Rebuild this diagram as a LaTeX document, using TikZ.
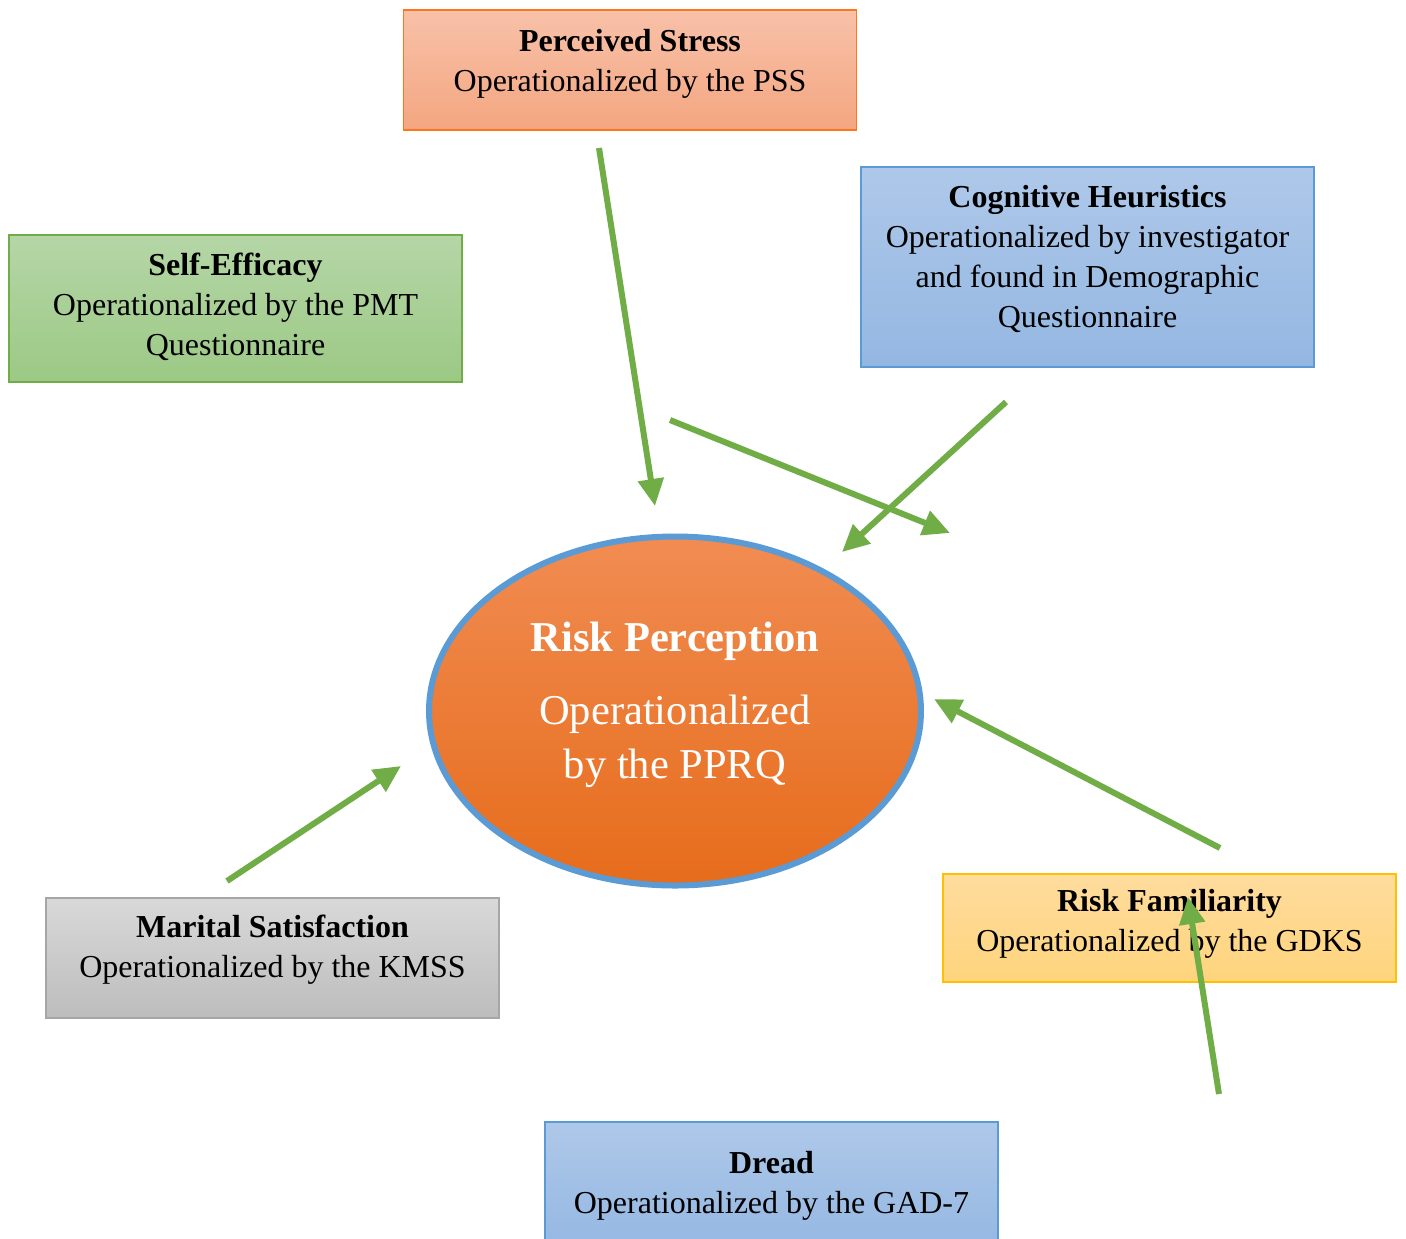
\documentclass[tikz,border=0pt]{standalone}
\usepackage{fontspec}
\setmainfont{Liberation Serif}
\usetikzlibrary{arrows.meta,shapes.geometric}

\definecolor{linkgreen}{HTML}{70AD47}
\definecolor{rimblue}{HTML}{5B9BD5}
\tikzset{
	box/.style={rectangle, draw, line width=0.15mm, inner sep=0pt, minimum width=45.3mm},
	boxtext/.style={align=center, font=\fontsize{9.1}{11.4}\selectfont, text=black},
	link/.style={draw=linkgreen, line width=0.6mm, -{Triangle[length=2.7mm,width=2.5mm]}}
}

\begin{document}
\begin{tikzpicture}[x=0.1mm, y=-0.1mm]
		%%%%% START %%%%%
		
		\useasboundingbox (0, 0) rectangle (1406, 1239);
		\clip (0, 0) rectangle (1406, 1239);
		
		% boxes
		\node[box, draw=orange!80!red!90, top color={rgb,255:red,248;green,193;blue,169}, bottom color={rgb,255:red,244;green,166;blue,128}, minimum height=12mm] (stress) at (630, 70) {};
		\node[boxtext] (stress text) at (630, 64) {\textbf{Perceived Stress}\\Operationalized by the PSS};
		
		\node[box, draw=linkgreen, top color={rgb,255:red,181;green,214;blue,167}, bottom color={rgb,255:red,156;green,201;blue,133}, minimum height=14.7mm] (efficacy) at (235.5, 308.5) {};
		\node[boxtext] (efficacy text) at (235.5, 307) {\textbf{Self-Efficacy}\\Operationalized by the PMT\\Questionnaire};
		
		\node[box, draw=rimblue, top color={rgb,255:red,174;green,200;blue,233}, bottom color={rgb,255:red,148;green,183;blue,226}, minimum height=20mm] (heuristics) at (1087.5, 267) {};
		\node[boxtext] (heuristics text) at (1087.5, 259) {\textbf{Cognitive Heuristics}\\Operationalized by investigator\\and found in Demographic\\Questionnaire};
		
		\node[box, draw=black!35, top color=black!15, bottom color=black!26, minimum height=12mm] (marital) at (272.5, 958) {};
		\node[boxtext] (marital text) at (272.5, 950) {\textbf{Marital Satisfaction}\\Operationalized by the KMSS};
		
		\node[box, draw={rgb,255:red,255;green,192;blue,0}, top color={rgb,255:red,255;green,220;blue,158}, bottom color={rgb,255:red,254;green,212;blue,124}, minimum height=10.8mm] (familiarity) at (1169.5, 928) {};
		\node[boxtext] (familiarity text) at (1169.5, 924) {\textbf{Risk Familiarity}\\Operationalized by the GDKS};
		
		\node[box, draw=rimblue, top color={rgb,255:red,174;green,200;blue,233}, bottom color={rgb,255:red,148;green,183;blue,226}, minimum height=13mm] (dread) at (771.5, 1187) {};
		\node[boxtext] (dread text) at (771.5, 1186) {\textbf{Dread}\\Operationalized by the GAD-7};
		
		% centre
		\node[ellipse, draw=rimblue, line width=0.6mm, inner sep=0pt, minimum width=49.2mm, minimum height=34.9mm,
			top color={rgb,255:red,241;green,140;blue,82}, middle color={rgb,255:red,244;green,124;blue,42}, bottom color={rgb,255:red,230;green,108;blue,27}] (risk) at (675, 711) {};
		\node[align=center, text=white, font=\fontsize{12.1}{15.3}\selectfont] (risk text) at (675, 705)
			{\textbf{Risk Perception}\\[5.5pt]Operationalized\\by the PPRQ};
		
		% arrows
		\coordinate (a1s) at (599, 148);
		\coordinate (a1e) at (655, 506);
		\coordinate (a2s) at (670, 420);
		\coordinate (a2e) at (950, 533);
		\coordinate (a3s) at (1006, 402);
		\coordinate (a3e) at (842, 552);
		\coordinate (a4s) at (1220, 848);
		\coordinate (a4e) at (934, 699);
		\coordinate (a5s) at (1219, 1094);
		\coordinate (a5e) at (1188, 897);
		\coordinate (a6s) at (227, 881);
		\coordinate (a6e) at (401, 766);
		
		\draw[link] (a1s) -- (a1e);
		\draw[link] (a2s) -- (a2e);
		\draw[link] (a3s) -- (a3e);
		\draw[link] (a4s) -- (a4e);
		\draw[link] (a5s) -- (a5e);
		\draw[link] (a6s) -- (a6e);
		
		%%%%% END %%%%%
	\end{tikzpicture}
\end{document}
